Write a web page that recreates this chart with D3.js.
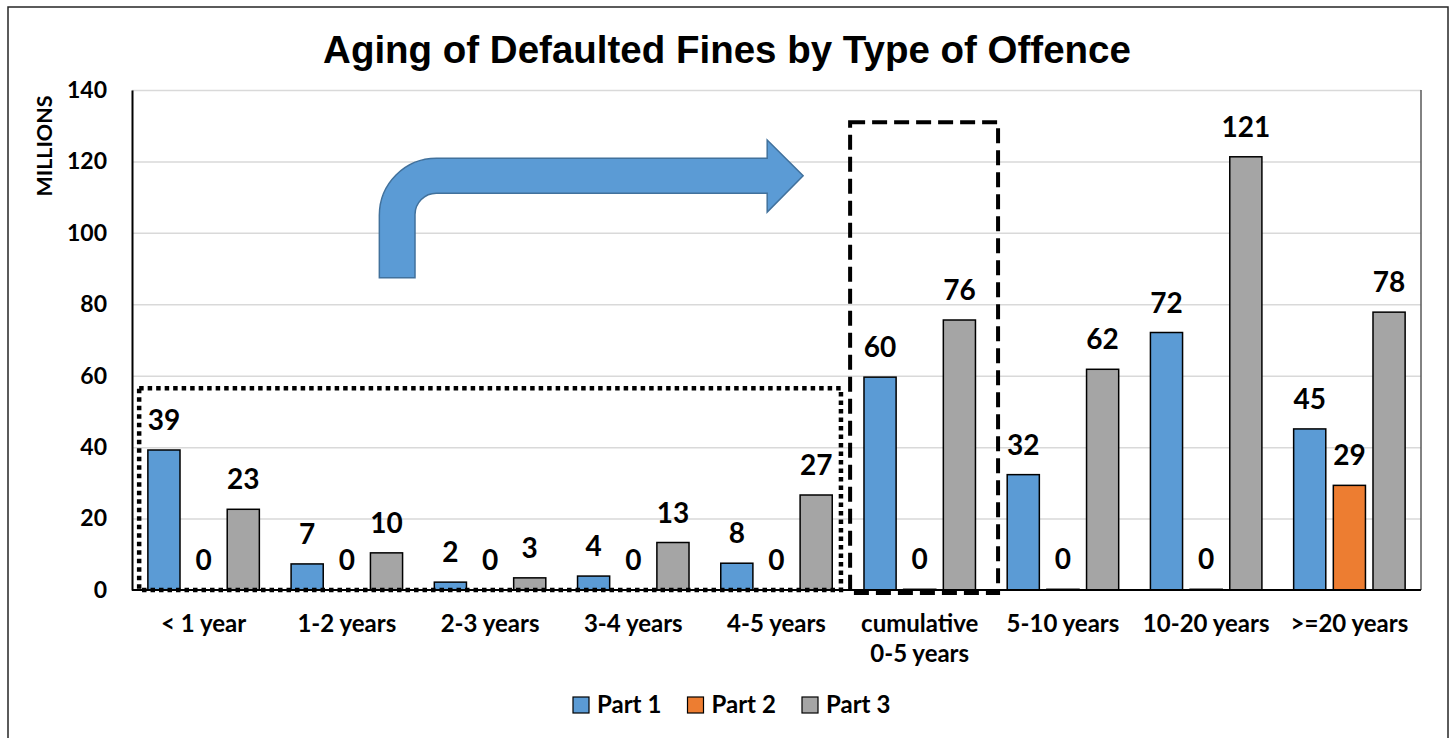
<!DOCTYPE html>
<html>
<head>
<meta charset="utf-8">
<script src="https://cdn.jsdelivr.net/npm/d3@7"></script>
<style>
  body { margin: 0; background: #fff; }
  text { font-family: Lato, "Open Sans", sans-serif; font-weight: bold; fill: #000; }
</style>
</head>
<body>
<div id="chart"></div>
<script>
// chart values (millions)
const categories = ['< 1 year', '1-2 years', '2-3 years', '3-4 years', '4-5 years',
  'cumulative\n0-5 years', '5-10 years', '10-20 years', '>=20 years'];
const seriesNames = ['Part 1', 'Part 2', 'Part 3'];
const part1 = [39.2, 7.3, 2.2, 3.9, 7.5, 59.6, 32.3, 72.1, 45.1];
const part2 = [0, 0, 0, 0, 0, 0.2, 0.2, 0.2, 29.3];
const part3 = [22.6, 10.4, 3.4, 13.3, 26.6, 75.6, 61.8, 121.3, 77.8];
const yTicks = [0, 20, 40, 60, 80, 100, 120, 140];
const colors = {'Part 1': '#5b9bd5', 'Part 2': '#ed7d31', 'Part 3': '#a5a5a5'};

const W = 1452, H = 738;
const margin = {top: 90, right: 31, bottom: 148, left: 132},
    width = W - margin.left - margin.right,
    height = H - margin.top - margin.bottom;

const svg = d3.select('#chart')
  .append('svg')
    .attr('width', W)
    .attr('height', H);

// outer frame
svg.append('rect')
    .attr('x', 8).attr('y', 7)
    .attr('width', 1440).attr('height', 760)
    .attr('fill', 'none')
    .attr('stroke', '#262626')
    .attr('stroke-width', 1.5);

svg.append('text')
    .attr('x', 727).attr('y', 63)
    .attr('text-anchor', 'middle')
    .style('font-family', '"Liberation Sans", Arial, sans-serif')
    .style('font-size', '38.5px')
    .text('Aging of Defaulted Fines by Type of Offence');

const g = svg.append('g')
    .attr('transform', 'translate(' + margin.left + ',' + margin.top + ')');

const x0 = d3.scaleBand().domain(categories).range([0, width]).padding(0);
const x1 = d3.scaleBand().domain(seriesNames).range([0, x0.bandwidth()])
    .paddingInner(0.19).paddingOuter(0.4);
const y = d3.scaleLinear().domain([0, 140]).range([height, 0]);
// category-index scale for the annotations
const xi = d3.scaleLinear().domain([0, categories.length]).range([0, width]);

// gridlines
g.append('g')
    .call(d3.axisLeft(y).tickValues(yTicks.slice(1)).tickSize(-width).tickFormat(''))
    .call(a => a.select('.domain').remove())
    .call(a => a.selectAll('line').attr('stroke', '#d9d9d9').attr('stroke-width', 1.5));

// right edge of plot area
g.append('line')
    .attr('x1', width).attr('x2', width)
    .attr('y1', 0).attr('y2', height)
    .attr('stroke', '#595959').attr('stroke-width', 1.5);

const rows = categories.map((c, i) => ({
  cat: c,
  values: [part1[i], part2[i], part3[i]].map((v, j) => ({key: seriesNames[j], value: v}))
}));

const groups = g.selectAll('.grp')
  .data(rows)
  .enter().append('g').attr('class', 'grp')
    .attr('transform', d => 'translate(' + x0(d.cat) + ',0)');

groups.selectAll('rect')
  .data(d => d.values)
  .enter().append('rect')
    .attr('x', d => x1(d.key))
    .attr('width', x1.bandwidth())
    .attr('y', d => y(d.value))
    .attr('height', d => height - y(d.value))
    .attr('fill', d => colors[d.key])
    .attr('stroke', '#000')
    .attr('stroke-width', 1.5);

groups.selectAll('.lbl')
  .data(d => d.values)
  .enter().append('text').attr('class', 'lbl')
    .attr('x', d => x1(d.key) + x1.bandwidth() / 2)
    .attr('y', d => y(d.value) - 20)
    .attr('text-anchor', 'middle')
    .style('font-size', '28px')
    .text(d => Math.round(d.value));

// y axis
g.append('g')
    .call(d3.axisLeft(y).tickValues(yTicks).tickSize(0).tickPadding(25))
    .call(a => a.select('.domain').attr('stroke', '#000').attr('stroke-width', 2))
    .call(a => a.selectAll('text').style('font-size', '23px')
        .style('font-family', 'Lato, sans-serif').style('font-weight', 'bold'));

// x baseline
g.append('line')
    .attr('x1', 0).attr('x2', width)
    .attr('y1', height).attr('y2', height)
    .attr('stroke', '#000').attr('stroke-width', 2);

// x labels
const xl = g.selectAll('.xl')
  .data(categories)
  .enter().append('text').attr('class', 'xl')
    .attr('x', d => x0(d) + x0.bandwidth() / 2)
    .attr('y', height + 42)
    .attr('text-anchor', 'middle')
    .style('font-size', '24px');
xl.selectAll('tspan')
  .data(d => d.split('\n'))
  .enter().append('tspan')
    .attr('x', function() { return d3.select(this.parentNode).attr('x'); })
    .attr('dy', (d, i) => i ? 30 : 0)
    .text(d => d);

// y title
svg.append('text')
    .attr('transform', 'translate(52,146) rotate(-90)')
    .attr('text-anchor', 'middle')
    .style('font-size', '21.5px')
    .text('MILLIONS');

// dotted box round the yearly groups
g.append('rect')
    .attr('x', xi(0.05)).attr('y', y(56.5))
    .attr('width', xi(4.95) - xi(0.05)).attr('height', y(0) - y(56.5))
    .attr('fill', 'none').attr('stroke', '#000')
    .attr('stroke-width', 4.5).attr('stroke-dasharray', '4.5,4');

// dashed box round the cumulative group
g.append('rect')
    .attr('x', xi(5.014)).attr('y', y(131))
    .attr('width', xi(6.047) - xi(5.014)).attr('height', y(-0.85) - y(131))
    .attr('fill', 'none').attr('stroke', '#000')
    .attr('stroke-width', 4).attr('stroke-dasharray', '15,7');

// bent arrow
const xL = xi(1.727), xR = xi(1.976), xEnd = xi(4.435), xTip = xi(4.686);
const yTop = y(120.9), yShB = y(111.1), yBot = y(87.4), yHT = y(126), yHB = y(105.8), yTip = y(116);
const R = 57, r = R - (xR - xL);
const arrow = d3.path();
arrow.moveTo(xL, yBot);
arrow.lineTo(xL, yTop + R);
arrow.arcTo(xL, yTop, xL + R, yTop, R);
arrow.lineTo(xEnd, yTop);
arrow.lineTo(xEnd, yHT);
arrow.lineTo(xTip, yTip);
arrow.lineTo(xEnd, yHB);
arrow.lineTo(xEnd, yShB);
arrow.lineTo(xR + r, yShB);
arrow.arcTo(xR, yShB, xR, yShB + r, r);
arrow.lineTo(xR, yBot);
arrow.closePath();
g.append('path')
    .attr('d', arrow.toString())
    .attr('fill', '#5b9bd5')
    .attr('stroke', '#41719c')
    .attr('stroke-width', 1.5);

// legend
const legend = svg.append('g').attr('transform', 'translate(573,697)');
const li = legend.selectAll('g')
  .data(seriesNames)
  .enter().append('g')
    .attr('transform', (d, i) => 'translate(' + i * 114.5 + ',0)');
li.append('rect')
    .attr('width', 16).attr('height', 16)
    .attr('fill', d => colors[d])
    .attr('stroke', '#000').attr('stroke-width', 1.2);
li.append('text')
    .attr('x', 24).attr('y', 16)
    .style('font-size', '24px')
    .text(d => d);
</script>
</body>
</html>
